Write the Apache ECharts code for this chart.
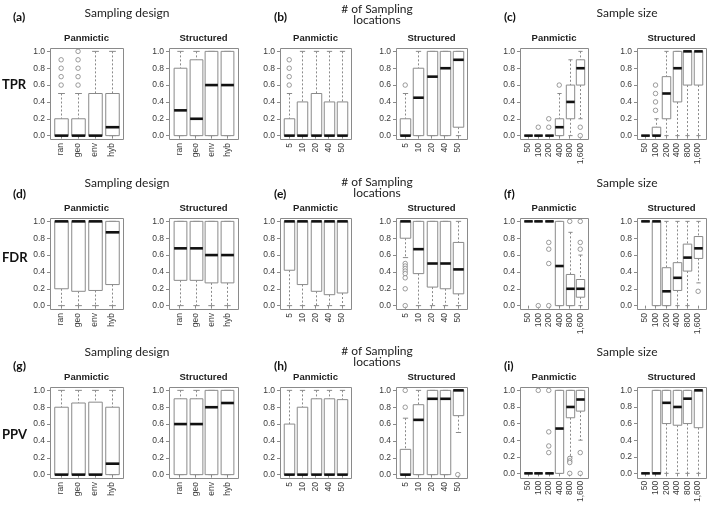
<!DOCTYPE html>
<html>
<head>
<meta charset="utf-8">
<script src="https://cdn.jsdelivr.net/npm/echarts/dist/echarts.min.js"></script>
<style>
html,body{margin:0;padding:0;background:#fff;}
#chart{width:709px;height:505px;}
</style>
</head>
<body>
<div id="chart"></div>
<script>
// ---------- categories & labels ----------
const designCats = ['ran', 'geo', 'env', 'hyb'];
const locationCats = ['5', '10', '20', '40', '50'];
const sizeCats = ['50', '100', '200', '400', '800', '1,600'];
const rowNames = ['TPR', 'FDR', 'PPV'];
const panelLetters = [['(a)', '(b)', '(c)'], ['(d)', '(e)', '(f)'], ['(g)', '(h)', '(i)']];
const groupTitles = ['Sampling design', '# of Sampling\nlocations', 'Sample size'];
const popTitles = ['Panmictic', 'Structured'];

// ---------- box stats: [lower whisker, Q1, median, Q3, upper whisker] ----------
// outliers: [category index, value]
// TPR
const tprDesignPan = [[0,0,0,0.2,0.5],[0,0,0,0.2,0.5],[0,0,0,0.5,1],[0,0,0.1,0.5,1]];
const tprDesignPanOut = [[0,0.6],[0,0.7],[0,0.8],[0,0.9],[1,0.6],[1,0.7],[1,0.8],[1,0.9],[1,1]];
const tprDesignStr = [[0,0,0.3,0.8,1],[0,0,0.2,0.9,1],[0,0,0.6,1,1],[0,0,0.6,1,1]];
const tprDesignStrOut = [];
const tprLocPan = [[0,0,0,0.2,0.5],[0,0,0,0.4,1],[0,0,0,0.5,1],[0,0,0,0.4,1],[0,0,0,0.4,1]];
const tprLocPanOut = [[0,0.6],[0,0.7],[0,0.8],[0,0.9]];
const tprLocStr = [[0,0,0,0.2,0.5],[0,0,0.45,0.8,1],[0,0,0.7,1,1],[0,0,0.8,1,1],[0,0.1,0.9,1,1]];
const tprLocStrOut = [[0,0.6]];
const tprSizePan = [[0,0,0,0,0],[0,0,0,0,0],[0,0,0,0,0],[0,0,0.1,0.2,0.5],[0,0.2,0.4,0.6,0.9],[0.2,0.6,0.8,0.9,1]];
const tprSizePanOut = [[1,0.1],[2,0.1],[2,0.2],[3,0.6],[5,0.1],[5,0]];
const tprSizeStr = [[0,0,0,0,0],[0,0,0,0.1,0.2],[0,0.2,0.5,0.7,1],[0,0.4,0.8,1,1],[0,0.6,1,1,1],[0,0.6,1,1,1]];
const tprSizeStrOut = [[1,0.3],[1,0.4],[1,0.5],[1,0.6]];
// FDR
const fdrDesignPan = [[0,0.2,1,1,1],[0,0.17,1,1,1],[0,0.18,1,1,1],[0,0.25,0.87,1,1]];
const fdrDesignPanOut = [];
const fdrDesignStr = [[0,0.3,0.68,1,1],[0,0.3,0.68,1,1],[0,0.27,0.6,1,1],[0,0.27,0.6,1,1]];
const fdrDesignStrOut = [];
const fdrLocPan = [[0,0.42,1,1,1],[0,0.25,1,1,1],[0,0.17,1,1,1],[0,0.13,1,1,1],[0,0.15,1,1,1]];
const fdrLocPanOut = [];
const fdrLocStr = [[0.57,0.8,1,1,1],[0,0.38,0.67,1,1],[0,0.22,0.5,1,1],[0,0.2,0.5,1,1],[0,0.14,0.43,0.75,1]];
const fdrLocStrOut = [[0,0.5],[0,0.47],[0,0.44],[0,0.41],[0,0.38],[0,0.33],[0,0.2],[0,0]];
const fdrSizePan = [[1,1,1,1,1],[1,1,1,1,1],[1,1,1,1,1],[0,0,0.47,1,1],[0,0,0.2,0.37,0.87],[0,0.1,0.2,0.31,0.6]];
const fdrSizePanOut = [[1,0],[2,0.75],[2,0.67],[2,0.5],[2,0],[4,1],[5,0.67],[5,0.75],[5,1]];
const fdrSizeStr = [[1,1,1,1,1],[0,0,1,1,1],[0,0,0.17,0.45,1],[0,0.18,0.33,0.51,1],[0,0.41,0.57,0.73,1],[0.27,0.56,0.68,0.82,1]];
const fdrSizeStrOut = [[5,0.17]];
// PPV
const ppvDesignPan = [[0,0,0,0.8,1],[0,0,0,0.85,1],[0,0,0,0.86,1],[0,0,0.13,0.8,1]];
const ppvDesignPanOut = [];
const ppvDesignStr = [[0,0,0.6,0.9,1],[0,0,0.6,0.9,1],[0,0,0.8,1,1],[0,0,0.85,1,1]];
const ppvDesignStrOut = [];
const ppvLocPan = [[0,0,0,0.6,1],[0,0,0,0.8,1],[0,0,0,0.9,1],[0,0,0,0.9,1],[0,0,0,0.89,1]];
const ppvLocPanOut = [];
const ppvLocStr = [[0,0,0,0.3,0.67],[0,0,0.65,0.83,1],[0,0,0.9,1,1],[0,0,0.9,1,1],[0.5,0.7,1,1,1]];
const ppvLocStrOut = [[0,0.8],[0,1],[4,0]];
const ppvSizePan = [[0,0,0,0,0],[0,0,0,0,0],[0,0,0,0,0],[0,0,0.54,1,1],[0.2,0.67,0.8,1,1],[0.4,0.75,0.89,1,1]];
const ppvSizePanOut = [[1,1],[2,1],[2,0.5],[2,0.33],[2,0.25],[4,0.18],[4,0.15],[4,0.13],[4,0],[5,0.25],[5,0]];
const ppvSizeStr = [[0,0,0,0,0],[0,0,0,1,1],[0,0.6,0.85,1,1],[0,0.58,0.8,1,1],[0,0.6,0.9,1,1],[0,0.55,1,1,1]];
const ppvSizeStrOut = [];

// ---------- layout ----------
const colL = [50, 169, 280, 396, 520, 637];
const colR = [123, 238, 351, 467, 588, 706];
const rowT = [48, 218, 387];
const rowB = [139, 309, 478];
const groupCenterX = [127, 377, 627];
const letterX = [13, 274, 504];
const letterY = [17, 194, 366];
const rowNameY = [85, 258, 435];
const groupTitleOffset = [[35, 33], [35, 30], [35, 30]];

const GRAY = '#8a8a8a';
const TXT = '#3a3a3a';

const catsByGroup = [designCats, locationCats, sizeCats];
const boxes = [
  [tprDesignPan, tprDesignStr, tprLocPan, tprLocStr, tprSizePan, tprSizeStr],
  [fdrDesignPan, fdrDesignStr, fdrLocPan, fdrLocStr, fdrSizePan, fdrSizeStr],
  [ppvDesignPan, ppvDesignStr, ppvLocPan, ppvLocStr, ppvSizePan, ppvSizeStr]
];
const outs = [
  [tprDesignPanOut, tprDesignStrOut, tprLocPanOut, tprLocStrOut, tprSizePanOut, tprSizeStrOut],
  [fdrDesignPanOut, fdrDesignStrOut, fdrLocPanOut, fdrLocStrOut, fdrSizePanOut, fdrSizeStrOut],
  [ppvDesignPanOut, ppvDesignStrOut, ppvLocPanOut, ppvLocStrOut, ppvSizePanOut, ppvSizeStrOut]
];

function renderBox(params, api) {
  const x = api.value(0);
  const lo = api.value(1), q1 = api.value(2), med = api.value(3), q3 = api.value(4), hi = api.value(5);
  const band = api.size([1, 0])[0];
  const half = band * 0.4;
  const cap = band * 0.2;
  const pLo = api.coord([x, lo]);
  const pQ1 = api.coord([x, q1]);
  const pMed = api.coord([x, med]);
  const pQ3 = api.coord([x, q3]);
  const pHi = api.coord([x, hi]);
  const cx = Math.round(pLo[0]) + 0.5;
  const thin = {stroke: GRAY, lineWidth: 1};
  const dash = {stroke: GRAY, lineWidth: 1, lineDash: [2, 2]};
  return {
    type: 'group',
    children: [
      {type: 'line', shape: {x1: cx, y1: pHi[1], x2: cx, y2: pQ3[1]}, style: dash},
      {type: 'line', shape: {x1: cx, y1: pQ1[1], x2: cx, y2: pLo[1]}, style: dash},
      {type: 'line', shape: {x1: cx - cap, y1: pHi[1], x2: cx + cap, y2: pHi[1]}, style: thin},
      {type: 'line', shape: {x1: cx - cap, y1: pLo[1], x2: cx + cap, y2: pLo[1]}, style: thin},
      {type: 'rect', shape: {x: cx - half, y: pQ3[1], width: half * 2, height: pQ1[1] - pQ3[1]},
        style: {fill: '#fff', stroke: GRAY, lineWidth: 1}},
      {type: 'line', shape: {x1: cx - half, y1: pMed[1], x2: cx + half, y2: pMed[1]},
        style: {stroke: '#111', lineWidth: 2.6}}
    ]
  };
}

const grid = [], xAxis = [], yAxis = [], series = [], graphic = [];
let idx = 0;
for (let r = 0; r < 3; r++) {
  for (let c = 0; c < 6; c++) {
    const L = colL[c], R = colR[c], T = rowT[r], B = rowB[r];
    const w = R - L, h = B - T;
    const ix = w * 0.04 / 1.08, iy = h * 0.04 / 1.08;
    const cats = catsByGroup[Math.floor(c / 2)];
    grid.push({left: L + ix, top: T + iy, width: w - 2 * ix, height: h - 2 * iy, containLabel: false});
    xAxis.push({
      type: 'category', gridIndex: idx, data: cats, position: 'bottom', offset: iy,
      axisLine: {show: false},
      axisTick: {show: true, alignWithLabel: true, length: 3, lineStyle: {color: GRAY}},
      axisLabel: {interval: 0, rotate: 90, fontSize: 8.5, color: TXT, margin: 4, fontFamily: 'Liberation Sans'},
      splitLine: {show: false}
    });
    yAxis.push({
      type: 'value', gridIndex: idx, min: 0, max: 1, interval: 0.2, offset: ix,
      axisLine: {show: false},
      axisTick: {show: true, length: 3, lineStyle: {color: GRAY}},
      axisLabel: {fontSize: 8.5, color: TXT, margin: 5, fontFamily: 'Liberation Sans',
        formatter: v => v.toFixed(1)},
      splitLine: {show: false}
    });
    series.push({
      type: 'custom', xAxisIndex: idx, yAxisIndex: idx, renderItem: renderBox,
      data: boxes[r][c].map((b, k) => [k].concat(b)),
      encode: {x: 0, y: [1, 2, 3, 4, 5]}, silent: true
    });
    series.push({
      type: 'scatter', xAxisIndex: idx, yAxisIndex: idx, symbol: 'circle', symbolSize: 4.5,
      itemStyle: {color: '#fff', borderColor: '#777', borderWidth: 0.9},
      data: outs[r][c], silent: true, z: 5
    });
    graphic.push({
      type: 'rect', silent: true, z: 100,
      shape: {x: L + 0.5, y: T + 0.5, width: w, height: h},
      style: {fill: 'none', stroke: GRAY, lineWidth: 1}
    });
    graphic.push({
      type: 'text', silent: true, x: (L + R) / 2, y: T - 10,
      style: {text: popTitles[c % 2], font: 'bold 9.5px "Liberation Sans"', fill: '#222',
        textAlign: 'center', align: 'center', textVerticalAlign: 'middle', verticalAlign: 'middle'}
    });
    idx++;
  }
  // row label
  graphic.push({
    type: 'text', silent: true, x: 2, y: rowNameY[r],
    style: {text: rowNames[r], font: 'bold 13px Lato', fill: '#111',
      textAlign: 'left', align: 'left', textVerticalAlign: 'middle', verticalAlign: 'middle'}
  });
  for (let g = 0; g < 3; g++) {
    graphic.push({
      type: 'text', silent: true, x: letterX[g], y: letterY[r],
      style: {text: panelLetters[r][g], font: 'bold 12px Lato', fill: '#111',
        textAlign: 'left', align: 'left', textVerticalAlign: 'middle', verticalAlign: 'middle'}
    });
    const two = groupTitles[g].indexOf('\n') >= 0;
    graphic.push({
      type: 'text', silent: true, x: groupCenterX[g], y: rowT[r] - groupTitleOffset[r][two ? 1 : 0],
      style: {text: groupTitles[g], font: '12px Lato', fill: '#222', lineHeight: 11,
        textAlign: 'center', align: 'center', textVerticalAlign: 'middle', verticalAlign: 'middle'}
    });
  }
}

const chart = echarts.init(document.getElementById('chart'), null, {renderer: 'canvas'});
chart.setOption({
  animation: false,
  backgroundColor: '#fff',
  grid, xAxis, yAxis, series, graphic
});
</script>
</body>
</html>
